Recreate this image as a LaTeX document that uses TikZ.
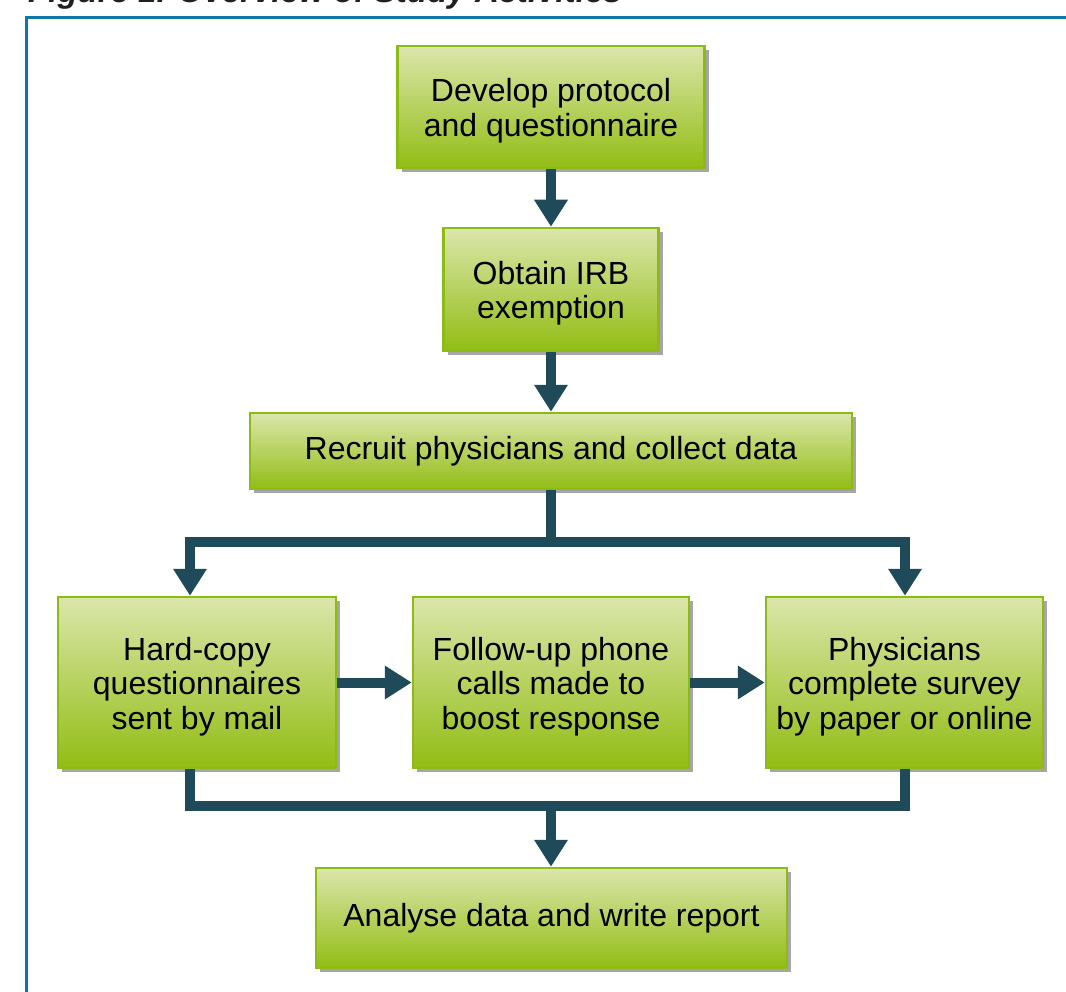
\documentclass[tikz,border=0pt]{standalone}
\usepackage{fontspec}
\setmainfont{Liberation Sans}
\usetikzlibrary{arrows.meta,shadows}
\definecolor{boxtop}{RGB}{219,230,171}
\definecolor{boxbot}{RGB}{146,189,20}
\definecolor{boxline}{RGB}{141,187,22}
\definecolor{conncol}{RGB}{31,74,90}
\definecolor{framecol}{RGB}{15,118,170}
\definecolor{titlecol}{RGB}{35,31,32}
\newcommand\firstline{\rule{0pt}{31pt}}
\tikzset{
  stepbox/.style={rectangle, draw=boxline, line width=2.5pt, top color=boxtop, bottom color=boxbot,
    align=center, font=\fontsize{32}{34.5}\selectfont, inner sep=0pt,
    drop shadow={shadow xshift=4pt, shadow yshift=-4pt, fill=black, opacity=0.35}},
  conn/.style={draw=conncol, line width=10pt, line join=miter, line cap=butt},
  arr/.style={conn, -{Triangle[width=32pt,length=27pt]}},
}
\begin{document}
\begin{tikzpicture}[x=1pt,y=1pt]
\useasboundingbox (0,0) rectangle (1066,-992);
\fill[white] (0,0) rectangle (1066,-992);
% title (cut at the top of the page)
\node[anchor=base west, inner sep=0pt, text=titlecol, font=\fontsize{33}{36}\selectfont\bfseries\itshape] (title) at (28,-3) {Figure 1. Overview of Study Activities};
% frame
\draw[framecol, line width=3pt, line join=miter] (1100,-17.5) -- (26.5,-17.5) -- (26.5,-1010);
% boxes
\node[stepbox, minimum width=307, minimum height=122] (b1) at (551,-107) {\firstline Develop protocol\\and questionnaire};
\node[stepbox, minimum width=215, minimum height=123] (b2) at (551,-289.5) {\firstline Obtain IRB\\exemption};
\node[stepbox, minimum width=602, minimum height=76] (b3) at (551,-451) {Recruit physicians and collect data};
\node[stepbox, minimum width=278, minimum height=171] (b4) at (197,-682.5) {\firstline Hard-copy\\questionnaires\\sent by mail};
\node[stepbox, minimum width=276, minimum height=171] (b5) at (551,-682.5) {\firstline Follow-up phone\\calls made to\\boost response};
\node[stepbox, minimum width=277, minimum height=171] (b6) at (904.5,-682.5) {\firstline Physicians\\complete survey\\by paper or online};
\node[stepbox, minimum width=471, minimum height=100] (b7) at (551.5,-918) {Analyse data and write report};
% coordinates
\coordinate (bm) at (551,-541.5);
\coordinate (bl) at (190,-541.5);
\coordinate (br) at (905,-541.5);
\coordinate (cm) at (551,-806);
\coordinate (cl) at (190,-806);
\coordinate (cr) at (905,-806);
% connectors
\draw[arr] (b1.south) -- (b2.north);
\draw[arr] (b2.south) -- (b3.north);
\draw[conn] (b3.south) -- (bm);
\draw[arr] (bm) -- (bl) -- (bl |- b4.north);
\draw[arr] (bm) -- (br) -- (br |- b6.north);
\draw[arr] (b4.east) -- (b5.west);
\draw[arr] (b5.east) -- (b6.west);
\draw[conn] (bl |- b4.south) -- (cl) -- (cr) -- (br |- b6.south);
\draw[arr] (cm) -- (cm |- b7.north);
\end{tikzpicture}
\end{document}
